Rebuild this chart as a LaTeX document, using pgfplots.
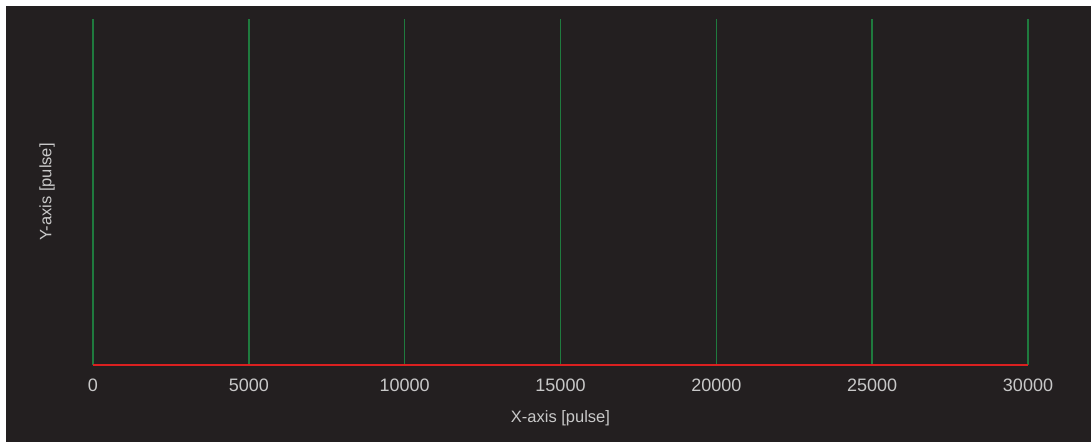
\documentclass[border=0pt]{standalone}
\usepackage{fontspec}
\setmainfont{Liberation Sans}
\usepackage{pgfplots}
\pgfplotsset{compat=1.18}
\definecolor{bgdark}{HTML}{231F20}
\definecolor{gridgreen}{HTML}{1F7A3E}
\definecolor{linered}{HTML}{DA2020}
\definecolor{txtgray}{HTML}{C8C8C8}
\begin{document}
\begin{tikzpicture}
\path[use as bounding box] (0,0) rectangle (1091pt,442pt);
\fill[white] (0,0) rectangle (1091pt,442pt);
\fill[bgdark] (6pt,0) rectangle (1091pt,436pt);
\begin{axis}[
  at={(93pt,77pt)}, anchor=origin,
  scale only axis, width=935pt, height=346pt,
  xmin=0, xmax=30000, ymin=0, ymax=1,
  axis line style={draw=none},
  xtick={0,5000,10000,15000,20000,25000,30000},
  ytick=\empty,
  major tick length=0pt,
  scaled ticks=false,
  /pgf/number format/set thousands separator={},
  /pgf/number format/assume math mode=true,
  xticklabel style={anchor=center, yshift=-20pt, text=txtgray, font=\fontsize{18}{20}\selectfont},
  xmajorgrids,
  major grid style={draw=gridgreen, line width=1.5pt},
  xlabel={X-axis [pulse]},
  ylabel={Y-axis [pulse]},
  xlabel style={at={(axis description cs:0.5,-0.153)}, anchor=center, text=txtgray, font=\fontsize{16.5}{18}\selectfont},
  ylabel style={at={(axis description cs:-0.049,0.5)}, anchor=center, text=txtgray, font=\fontsize{16.5}{18}\selectfont},
  clip=false,
]
\addplot[linered, line width=1.6pt, no markers] coordinates {(0,0) (30000,0)};
\end{axis}
\end{tikzpicture}
\end{document}
